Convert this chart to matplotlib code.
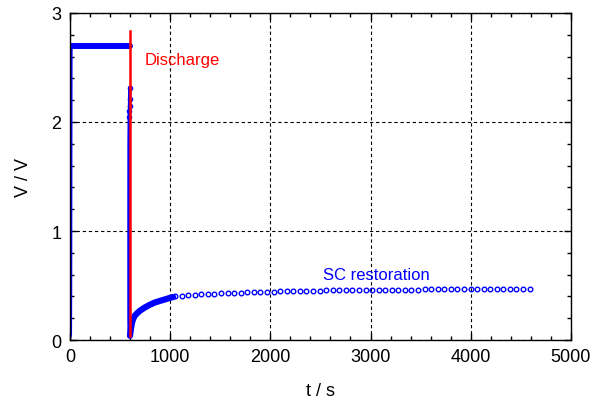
import numpy as np
import matplotlib
matplotlib.use("Agg")
import matplotlib.pyplot as plt
from matplotlib.ticker import MultipleLocator

plt.rcParams['font.family'] = ['Liberation Sans', 'DejaVu Sans']

# charge: quick rise then constant plateau
rise_t = [0, 8, 10, 11, 12, 13, 14]
rise_v = [0.02, 0.05, 0.5, 1.2, 1.9, 2.5, 2.70]
plateau_t = [14, 100, 200, 300, 400, 500, 600]
plateau_v = [2.70, 2.70, 2.70, 2.70, 2.70, 2.70, 2.70]

# discharge through the short circuit
discharge_t = [598, 597, 596, 595, 593, 591, 590, 590, 590, 592, 596]
discharge_v = [2.31, 2.21, 2.15, 2.10, 2.05, 1.80, 1.20, 0.60, 0.20, 0.08, 0.04]

# early restoration, densely sampled
recovery_t = [600, 606, 612, 620, 632, 649, 675, 700, 749, 800, 848, 900, 948, 1000, 1030]
recovery_v = [0.04, 0.08, 0.12, 0.16, 0.195, 0.225, 0.25, 0.27, 0.30, 0.325, 0.345, 0.36, 0.373, 0.388, 0.395]

# late restoration, sparse samples
late_t = [1050, 1116, 1181, 1247, 1312, 1378, 1443, 1509, 1574, 1640,
          1705, 1771, 1836, 1902, 1967, 2033, 2098, 2164, 2229, 2295,
          2360, 2426, 2491, 2557, 2622, 2688, 2753, 2819, 2884, 2950,
          3015, 3081, 3146, 3212, 3277, 3343, 3408, 3474, 3539, 3605,
          3670, 3736, 3801, 3867, 3932, 3998, 4063, 4129, 4194, 4260,
          4325, 4391, 4456, 4522, 4587]
late_v = [0.402, 0.407, 0.411, 0.415, 0.419, 0.422, 0.425, 0.428, 0.431, 0.433,
          0.436, 0.438, 0.440, 0.442, 0.444, 0.445, 0.447, 0.448, 0.449, 0.451,
          0.452, 0.453, 0.454, 0.455, 0.456, 0.457, 0.457, 0.458, 0.459, 0.460,
          0.460, 0.461, 0.462, 0.462, 0.463, 0.463, 0.464, 0.464, 0.465, 0.465,
          0.466, 0.466, 0.467, 0.467, 0.467, 0.468, 0.468, 0.469, 0.469, 0.469,
          0.470, 0.470, 0.470, 0.471, 0.471]

# discharge marker (vertical red line)
switch_t = [601, 601]
switch_v = [0.04, 2.83]

fig = plt.figure(figsize=(5.92, 4.10), dpi=100)
ax = fig.add_axes([0.118, 0.168, 0.8465, 0.798])

blue = '#0000ff'
ax.plot(rise_t, rise_v, '-', color=blue, lw=2)
ax.plot(plateau_t, plateau_v, '-', color=blue, lw=4.3, solid_capstyle='round')
ax.plot(discharge_t, discharge_v, '-o', color=blue, lw=2.5, ms=3, mfc='none', mew=1,
        markevery=[0, 1, 2, 3, 4])
ax.plot(recovery_t, recovery_v, '-', color=blue, lw=4.5, solid_capstyle='round')
ax.plot(late_t, late_v, 'o', color=blue, ms=3.3, mfc='none', mew=1)
ax.plot(switch_t, switch_v, '-', color='#ff0000', lw=1.8, zorder=5)

ax.text(749, 2.53, 'Discharge', color='#ff0000', fontsize=12, va='baseline')
ax.text(2528, 0.56, 'SC restoration', color=blue, fontsize=12, va='baseline')

ax.set_xlim(0, 5000)
ax.set_ylim(0, 3)
ax.xaxis.set_major_locator(MultipleLocator(1000))
ax.xaxis.set_minor_locator(MultipleLocator(200))
ax.yaxis.set_major_locator(MultipleLocator(1))
ax.yaxis.set_minor_locator(MultipleLocator(0.2))
ax.tick_params(which='both', direction='in', top=True, right=True, labelsize=13, pad=6)
ax.tick_params(which='major', length=5, width=1)
ax.tick_params(which='minor', length=3, width=1)
ax.grid(True, which='major', color='black', ls=(0, (3, 2.5)), lw=0.8)
for s in ax.spines.values():
    s.set_linewidth(1)

ax.set_xlabel('t / s', fontsize=13, labelpad=12)
ax.set_ylabel('V / V', fontsize=13, labelpad=14)

fig.savefig('out.png', dpi=100)
